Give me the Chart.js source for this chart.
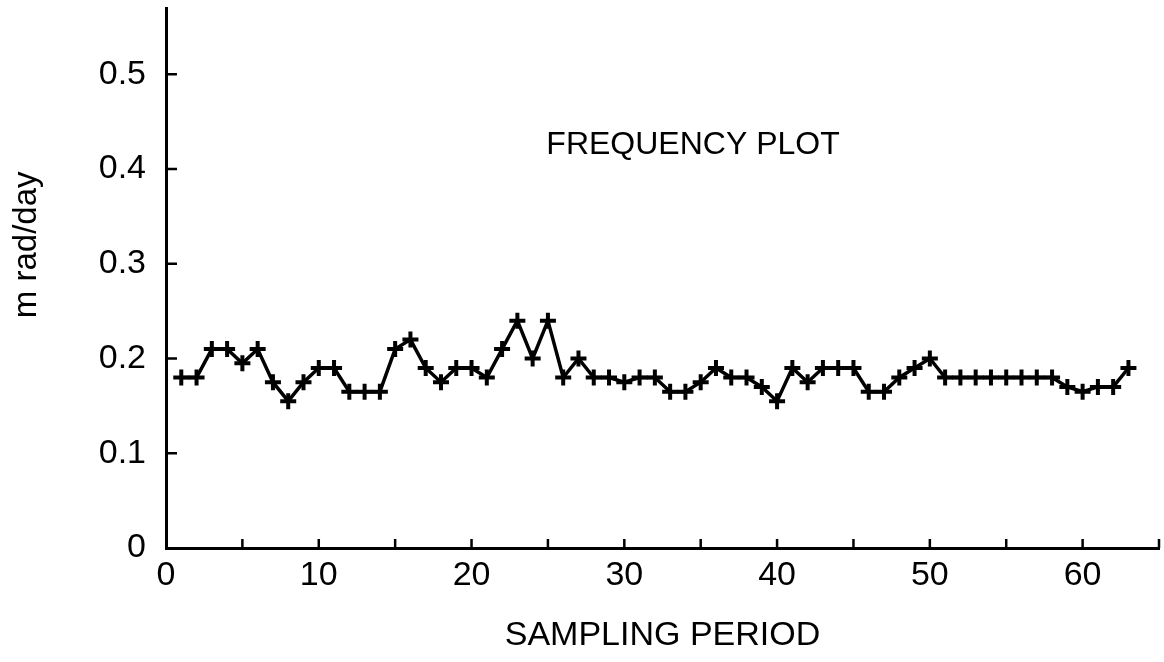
<!DOCTYPE html>
<html>
<head>
<meta charset="utf-8">
<title>Frequency plot</title>
<script src="https://cdn.jsdelivr.net/npm/chart.js@4"></script>
<style>
  body { margin: 0; background: #fff; }
  #wrap { width: 1164px; height: 662px; }
</style>
</head>
<body>
<div id="wrap"><canvas id="freqChart"></canvas></div>
<script>
'use strict';
// sampling period (x) and drift in mrad/day (y)
var periods = [1, 2, 3, 4, 5, 6, 7, 8, 9, 10,
  11, 12, 13, 14, 15, 16, 17, 18, 19, 20,
  21, 22, 23, 24, 25, 26, 27, 28, 29, 30,
  31, 32, 33, 34, 35, 36, 37, 38, 39, 40,
  41, 42, 43, 44, 45, 46, 47, 48, 49, 50,
  51, 52, 53, 54, 55, 56, 57, 58, 59, 60,
  61, 62, 63];
var mradPerDay = [0.18, 0.18, 0.21, 0.21, 0.195, 0.21, 0.175, 0.155, 0.175, 0.19,
  0.19, 0.165, 0.165, 0.165, 0.21, 0.22, 0.19, 0.175, 0.19, 0.19,
  0.18, 0.21, 0.24, 0.20, 0.24, 0.18, 0.20, 0.18, 0.18, 0.175,
  0.18, 0.18, 0.165, 0.165, 0.175, 0.19, 0.18, 0.18, 0.17, 0.155,
  0.19, 0.175, 0.19, 0.19, 0.19, 0.165, 0.165, 0.18, 0.19, 0.20,
  0.18, 0.18, 0.18, 0.18, 0.18, 0.18, 0.18, 0.18, 0.17, 0.165,
  0.17, 0.17, 0.19];
var xLabelled = [0, 10, 20, 30, 40, 50, 60];   // ticks every 5, labels every 10
var plotTitle = 'FREQUENCY PLOT';
var yTitle = 'm rad/day';
var xTitle = 'SAMPLING PERIOD';

var fontFam = '"Liberation Sans", Arial, sans-serif';

var points = [];
for (var i = 0; i < periods.length; i++) {
  points.push({ x: periods[i], y: mradPerDay[i] });
}

// tick marks point inward, plus the in-plot caption and y title
var innerTicks = {
  id: 'innerTicks',
  afterDraw: function (chart) {
    var ctx = chart.ctx;
    var xs = chart.scales.x;
    var ys = chart.scales.y;
    var area = chart.chartArea;
    ctx.save();
    ctx.strokeStyle = '#000';
    ctx.lineWidth = 2.5;
    ctx.beginPath();
    xs.ticks.forEach(function (t) {
      if (t.value === 0) return;
      var px = xs.getPixelForValue(t.value);
      ctx.moveTo(px, area.bottom);
      ctx.lineTo(px, area.bottom - 9);
    });
    ys.ticks.forEach(function (t) {
      if (t.value === 0) return;
      var py = ys.getPixelForValue(t.value);
      ctx.moveTo(area.left, py);
      ctx.lineTo(area.left + 11, py);
    });
    ctx.stroke();

    ctx.fillStyle = '#000';
    ctx.textAlign = 'center';
    ctx.textBaseline = 'middle';
    ctx.font = '32px ' + fontFam;
    ctx.fillText(plotTitle, xs.getPixelForValue(34.5), ys.getPixelForValue(0.425));

    ctx.translate(area.left - 139, ys.getPixelForValue(0.32));
    ctx.rotate(-Math.PI / 2);
    ctx.font = '33px ' + fontFam;
    ctx.fillText(yTitle, 0, 0);
    ctx.restore();
  }
};

var ctx = document.getElementById('freqChart').getContext('2d');
var chart = new Chart(ctx, {
  type: 'line',
  data: {
    datasets: [{
      data: points,
      borderColor: '#000',
      borderWidth: 3.5,
      tension: 0,
      pointStyle: 'cross',
      pointRadius: 8,
      pointBorderWidth: 4,
      pointBorderColor: '#000',
      pointBackgroundColor: '#000'
    }]
  },
  options: {
    responsive: true,
    maintainAspectRatio: false,
    animation: false,
    layout: { autoPadding: false, padding: { top: 8, right: 5, left: 0, bottom: 0 } },
    plugins: {
      legend: { display: false },
      tooltip: { enabled: false }
    },
    scales: {
      x: {
        type: 'linear',
        min: 0,
        max: 65,
        grid: { display: false, drawTicks: false },
        border: { display: true, color: '#000', width: 3 },
        ticks: {
          stepSize: 5,
          autoSkip: false,
          maxRotation: 0,
          padding: 7,
          color: '#000',
          font: { family: fontFam, size: 34 },
          callback: function (v) {
            return xLabelled.indexOf(v) >= 0 ? String(v) : '';
          }
        },
        title: {
          display: true,
          text: xTitle,
          color: '#000',
          font: { family: fontFam, size: 34 },
          padding: { top: 0, bottom: 6 }
        },
        afterFit: function (scale) {
          scale.height = 114;
          scale.paddingLeft = 0;
          scale.paddingRight = 0;
        }
      },
      y: {
        min: 0,
        max: 0.57,
        grid: { display: false, drawTicks: false },
        border: { display: true, color: '#000', width: 3 },
        ticks: {
          stepSize: 0.1,
          includeBounds: false,
          padding: 20,
          color: '#000',
          font: { family: fontFam, size: 34 },
          callback: function (v) {
            return v === 0 ? '0' : v.toFixed(1);
          }
        },
        afterFit: function (scale) {
          scale.width = 166;
          scale.paddingTop = 0;
          scale.paddingBottom = 0;
        }
      }
    }
  },
  plugins: [innerTicks]
});
</script>
</body>
</html>
